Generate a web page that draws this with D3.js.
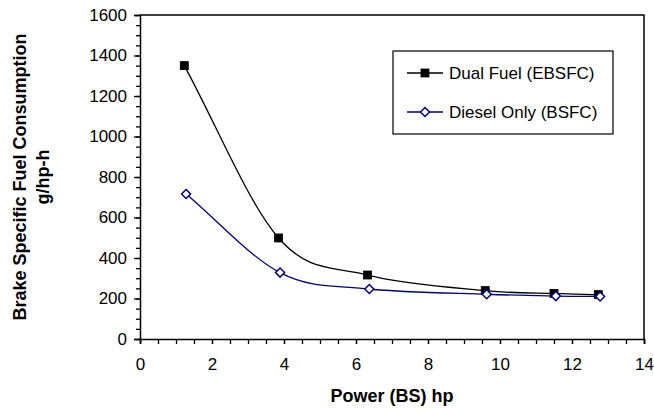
<!DOCTYPE html>
<html>
<head>
<meta charset="utf-8">
<script src="https://cdn.jsdelivr.net/npm/d3@7"></script>
<style>
  html, body { margin: 0; padding: 0; background: #fff; }
  svg { display: block; font-family: "Liberation Sans", Arial, sans-serif; }
</style>
</head>
<body>
<svg id="chart" width="654" height="409"></svg>
<script>
// Engine test: brake specific fuel consumption against brake power
const seriesNames = ["Dual Fuel (EBSFC)", "Diesel Only (BSFC)"];
const dualPower = [1.23, 3.85, 6.32, 9.59, 11.5, 12.73];
const dualBsfc = [1350, 499, 316, 239, 225, 219];
const dieselPower = [1.28, 3.89, 6.37, 9.63, 11.55, 12.78];
const dieselBsfc = [716, 328, 247, 221, 212, 210];
const xTicks = [0, 2, 4, 6, 8, 10, 12, 14];
const yTicks = [0, 200, 400, 600, 800, 1000, 1200, 1400, 1600];
const xTitle = "Power (BS) hp";
const yTitleLines = ["Brake Specific Fuel Consumption", "g/hp-h"];

const svg = d3.select("#chart");
const plotLeft = 140, plotRight = 644, plotTop = 15, plotBottom = 339;

const x = d3.scaleLinear().domain([0, 14]).range([plotLeft, plotRight]);
const y = d3.scaleLinear().domain([0, 1600]).range([plotBottom, plotTop]);

// frame on top and right
svg.append("path")
  .attr("d", `M${plotLeft},${plotTop}H${plotRight}V${plotBottom}`)
  .attr("fill", "none").attr("stroke", "#000").attr("stroke-width", 1.5);

// minor ticks
const yMinor = d3.range(0, 1601, 50);
const xMinor = d3.range(0, 14.01, 0.5);

const yAxis = svg.append("g").attr("transform", `translate(${plotLeft},0)`);
yAxis.call(d3.axisLeft(y).tickValues(yMinor).tickSize(4).tickFormat(""))
  .call(g => g.select(".domain").remove());
yAxis.append("g").call(d3.axisLeft(y).tickValues(yTicks).tickSize(6).tickPadding(7)
  .tickFormat(d3.format("d")))
  .call(g => g.select(".domain").attr("stroke-width", 1.5));
yAxis.selectAll("line").attr("stroke-width", 1.3);
yAxis.selectAll("text").attr("font-size", 17).attr("fill", "#000")
  .attr("font-family", "Liberation Sans, Arial, sans-serif");

const xAxis = svg.append("g").attr("transform", `translate(0,${plotBottom})`);
xAxis.call(d3.axisBottom(x).tickValues(xMinor).tickSize(5).tickFormat(""))
  .call(g => g.select(".domain").remove());
xAxis.append("g").call(d3.axisBottom(x).tickValues(xTicks).tickSize(5).tickPadding(14)
  .tickFormat(d3.format("d")))
  .call(g => g.select(".domain").attr("stroke-width", 1.5));
xAxis.selectAll("line").attr("stroke-width", 1.3);
xAxis.selectAll("text").attr("font-size", 17).attr("fill", "#000")
  .attr("font-family", "Liberation Sans, Arial, sans-serif");

// axis titles
svg.append("text").attr("x", (plotLeft + plotRight) / 2).attr("y", 402)
  .attr("text-anchor", "middle").attr("font-size", 18).attr("font-weight", "bold")
  .text(xTitle);

const yTitle = svg.append("text")
  .attr("transform", `translate(0,${(plotTop + plotBottom) / 2}) rotate(-90)`)
  .attr("text-anchor", "middle").attr("font-size", 18).attr("font-weight", "bold");
yTitle.selectAll("tspan").data(yTitleLines).join("tspan")
  .attr("x", 0).attr("y", (d, i) => i === 0 ? 26 : 49).text(d => d);

// Smoothed line: cubic Bezier segments, Catmull-Rom tangents inside,
// chord tangents at the two ends.
function smoothCurve(context) {
  let pts = [];
  return {
    areaStart() {}, areaEnd() {},
    lineStart() { pts = []; },
    point(px, py) { pts.push([px, py]); },
    lineEnd() {
      const n = pts.length;
      if (!n) return;
      const tan = pts.map((p, i) => {
        const a = pts[Math.max(0, i - 1)], b = pts[Math.min(n - 1, i + 1)];
        const div = (i === 0 || i === n - 1) ? 1 : 2;
        return [(b[0] - a[0]) / div, (b[1] - a[1]) / div];
      });
      context.moveTo(pts[0][0], pts[0][1]);
      for (let i = 0; i < n - 1; i++) {
        const p = pts[i], q = pts[i + 1];
        context.bezierCurveTo(
          p[0] + tan[i][0] / 3, p[1] + tan[i][1] / 3,
          q[0] - tan[i + 1][0] / 3, q[1] - tan[i + 1][1] / 3,
          q[0], q[1]);
      }
    }
  };
}

// series
const series = [
  { name: seriesNames[0], xs: dualPower, ys: dualBsfc, color: "#000000", marker: "square" },
  { name: seriesNames[1], xs: dieselPower, ys: dieselBsfc, color: "#000080", marker: "diamond" }
];

const line = d3.line().x(d => x(d[0])).y(d => y(d[1])).curve(smoothCurve);

function drawMarker(g, kind, cx, cy, color) {
  if (kind === "square") {
    g.append("rect").attr("x", cx - 4).attr("y", cy - 4).attr("width", 8).attr("height", 8)
      .attr("fill", color).attr("stroke", color).attr("stroke-width", 0.8);
  } else {
    const r = 4.5;
    g.append("path").attr("d", `M${cx},${cy - r}L${cx + r},${cy}L${cx},${cy + r}L${cx - r},${cy}Z`)
      .attr("fill", "#fff").attr("stroke", color).attr("stroke-width", 1.5);
  }
}

series.forEach(s => {
  const pts = s.xs.map((v, i) => [v, s.ys[i]]);
  svg.append("path").datum(pts).attr("d", line)
    .attr("fill", "none").attr("stroke", s.color).attr("stroke-width", 1.3);
  const mg = svg.append("g");
  pts.forEach(p => drawMarker(mg, s.marker, x(p[0]), y(p[1]), s.color));
});

// legend
const legend = svg.append("g");
legend.append("rect").attr("x", 393).attr("y", 51).attr("width", 220).attr("height", 83)
  .attr("fill", "#fff").attr("stroke", "#000").attr("stroke-width", 1.2);
series.forEach((s, i) => {
  const ly = 73 + i * 39;
  legend.append("line").attr("x1", 407).attr("x2", 443).attr("y1", ly).attr("y2", ly)
    .attr("stroke", s.color).attr("stroke-width", 1.3);
  drawMarker(legend, s.marker, 425, ly, s.color);
  legend.append("text").attr("x", 449).attr("y", ly).attr("dy", "0.36em")
    .attr("font-size", 17).attr("fill", "#000").text(s.name);
});
</script>
</body>
</html>
